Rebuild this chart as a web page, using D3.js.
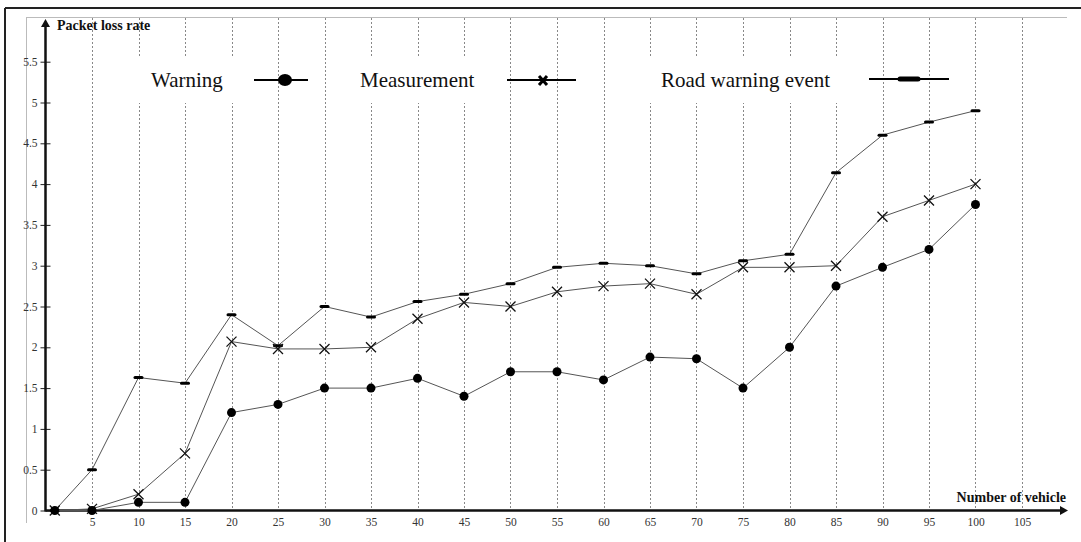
<!DOCTYPE html>
<html>
<head>
    <title>Packet loss rate vs number of vehicle</title>
    <script src="https://d3js.org/d3.v7.min.js"></script>
    <style>
        body { margin: 0; background: #fff; }
        svg { display: block; }
        .tick text { font-family: "Liberation Serif", "Times New Roman", serif; font-size: 11.5px; fill: #333; }
        .axis-title { font-family: "Liberation Serif", "Times New Roman", serif; font-size: 14px; font-weight: bold; fill: #111; }
        .legend-text { font-family: "Liberation Serif", "Times New Roman", serif; font-size: 21px; fill: #111; }
    </style>
</head>
<body>
<div id="chart"></div>
<script>
// Data
const vehicles = [1, 5, 10, 15, 20, 25, 30, 35, 40, 45, 50, 55, 60, 65, 70, 75, 80, 85, 90, 95, 100];
const warning = [0, 0, 0.1, 0.1, 1.2, 1.3, 1.5, 1.5, 1.62, 1.4, 1.7, 1.7, 1.6, 1.88, 1.86, 1.5, 2.0, 2.75, 2.98, 3.2, 3.75];
const measurement = [0, 0.02, 0.2, 0.7, 2.07, 1.98, 1.98, 2.0, 2.35, 2.55, 2.5, 2.68, 2.75, 2.78, 2.65, 2.98, 2.98, 3.0, 3.6, 3.8, 4.0];
const roadWarning = [0, 0.5, 1.63, 1.56, 2.4, 2.02, 2.5, 2.37, 2.56, 2.65, 2.78, 2.98, 3.03, 3.0, 2.9, 3.06, 3.14, 4.14, 4.6, 4.76, 4.9];

const xTicks = [5, 10, 15, 20, 25, 30, 35, 40, 45, 50, 55, 60, 65, 70, 75, 80, 85, 90, 95, 100, 105];
const yTicks = [0, 0.5, 1, 1.5, 2, 2.5, 3, 3.5, 4, 4.5, 5, 5.5];
const legendNames = ['Warning', 'Measurement', 'Road warning event'];

const width = 1081, height = 542;
const svg = d3.select('#chart').append('svg')
    .attr('width', width)
    .attr('height', height);

const x = d3.scaleLinear().domain([0, 105]).range([45.5, 1022]);
const y = d3.scaleLinear().domain([0, 5]).range([510.5, 102.5]);

// outer frame (top + left only)
svg.append('line').attr('x1', 5).attr('x2', width).attr('y1', 8).attr('y2', 8)
    .attr('stroke', '#222').attr('stroke-width', 2);
svg.append('line').attr('x1', 5).attr('x2', 5).attr('y1', 8).attr('y2', height)
    .attr('stroke', '#222').attr('stroke-width', 2);

// inner gray frame
svg.append('line').attr('x1', 26).attr('x2', 1067).attr('y1', 17.5).attr('y2', 17.5)
    .attr('stroke', '#bbb').attr('stroke-width', 1);
svg.append('line').attr('x1', 26.5).attr('x2', 26.5).attr('y1', 17).attr('y2', 523)
    .attr('stroke', '#bbb').attr('stroke-width', 1);

// dotted vertical grid
svg.append('g').selectAll('line')
    .data(xTicks)
    .enter().append('line')
    .attr('x1', d => Math.round(x(d)) + 0.5)
    .attr('x2', d => Math.round(x(d)) + 0.5)
    .attr('y1', 18)
    .attr('y2', y(0))
    .attr('stroke', '#888')
    .attr('stroke-width', 1)
    .attr('stroke-dasharray', '2,2');

// legend text boxes (white, hide the grid)
const legendBoxes = [
    { x: 125, w: 122 },
    { x: 340, w: 152 },
    { x: 640, w: 212 }
];
const legendText = [
    { x: 151 },
    { x: 360 },
    { x: 661 }
];
svg.append('g').selectAll('rect')
    .data(legendBoxes)
    .enter().append('rect')
    .attr('x', d => d.x).attr('y', 57)
    .attr('width', d => d.w).attr('height', 46)
    .attr('fill', '#fff');
svg.append('g').selectAll('text')
    .data(legendNames)
    .enter().append('text')
    .attr('class', 'legend-text')
    .attr('x', (d, i) => legendText[i].x)
    .attr('y', 87)
    .text(d => d);

// legend symbols
svg.append('line').attr('x1', 254).attr('x2', 308).attr('y1', 80).attr('y2', 80)
    .attr('stroke', '#000').attr('stroke-width', 2);
svg.append('ellipse').attr('cx', 285).attr('cy', 80).attr('rx', 7).attr('ry', 6).attr('fill', '#000');

svg.append('line').attr('x1', 507).attr('x2', 576).attr('y1', 80).attr('y2', 80)
    .attr('stroke', '#000').attr('stroke-width', 2);
svg.append('path').attr('d', 'M539,76L547,85M547,76L539,85')
    .attr('stroke', '#000').attr('stroke-width', 3);

svg.append('line').attr('x1', 869).attr('x2', 949).attr('y1', 79).attr('y2', 79)
    .attr('stroke', '#000').attr('stroke-width', 2);
svg.append('line').attr('x1', 900).attr('x2', 918).attr('y1', 79).attr('y2', 79)
    .attr('stroke', '#000').attr('stroke-width', 5).attr('stroke-linecap', 'round');

// axes
const yAxis = svg.append('g')
    .attr('transform', `translate(${x(0)},0)`)
    .call(d3.axisLeft(y).tickValues(yTicks).tickFormat(d3.format('~g')).tickSize(5).tickPadding(3));
yAxis.select('.domain').remove();
yAxis.selectAll('.tick line').attr('x1', -5).attr('x2', 5).attr('stroke', '#222');

const xAxis = svg.append('g')
    .attr('transform', `translate(0,${y(0)})`)
    .call(d3.axisBottom(x).tickValues(xTicks).tickSize(0).tickPadding(7));
xAxis.select('.domain').remove();

svg.append('line').attr('x1', x(0)).attr('x2', 1062).attr('y1', y(0)).attr('y2', y(0))
    .attr('stroke', '#111').attr('stroke-width', 2.5);
svg.append('path').attr('d', `M1068,${y(0)}L1060,${y(0) - 4.5}L1060,${y(0) + 4.5}Z`).attr('fill', '#111');
svg.append('line').attr('x1', x(0)).attr('x2', x(0)).attr('y1', y(0) + 1).attr('y2', 26)
    .attr('stroke', '#111').attr('stroke-width', 2.5);
svg.append('path').attr('d', `M${x(0)},19L${x(0) - 4.5},27L${x(0) + 4.5},27Z`).attr('fill', '#111');

svg.append('text').attr('class', 'axis-title').attr('x', 57).attr('y', 30).text('Packet loss rate');
svg.append('text').attr('class', 'axis-title').attr('x', 1066).attr('y', 502)
    .attr('text-anchor', 'end').text('Number of vehicle');

// series lines
const series = [
    { values: roadWarning, marker: 'dash' },
    { values: measurement, marker: 'cross' },
    { values: warning, marker: 'dot' }
];
const line = d3.line()
    .x(d => x(d[0]))
    .y(d => y(d[1]));

series.forEach(s => {
    const pts = vehicles.map((v, i) => [v, s.values[i]]);
    svg.append('path')
        .datum(pts)
        .attr('d', line)
        .attr('fill', 'none')
        .attr('stroke', '#555')
        .attr('stroke-width', 1);

    const g = svg.append('g');
    if (s.marker === 'dot') {
        g.selectAll('circle').data(pts).enter().append('circle')
            .attr('cx', d => x(d[0])).attr('cy', d => y(d[1]))
            .attr('r', 4.5).attr('fill', '#000');
    } else if (s.marker === 'cross') {
        g.selectAll('path').data(pts).enter().append('path')
            .attr('d', d => {
                const cx = x(d[0]), cy = y(d[1]);
                return `M${cx - 5},${cy - 5}L${cx + 5},${cy + 5}M${cx + 5},${cy - 5}L${cx - 5},${cy + 5}`;
            })
            .attr('stroke', '#111').attr('stroke-width', 1.3);
    } else {
        g.selectAll('rect').data(pts).enter().append('rect')
            .attr('x', d => x(d[0]) - 5).attr('y', d => y(d[1]) - 1.5)
            .attr('width', 10).attr('height', 3).attr('rx', 1.5)
            .attr('fill', '#000');
    }
});
</script>
</body>
</html>
